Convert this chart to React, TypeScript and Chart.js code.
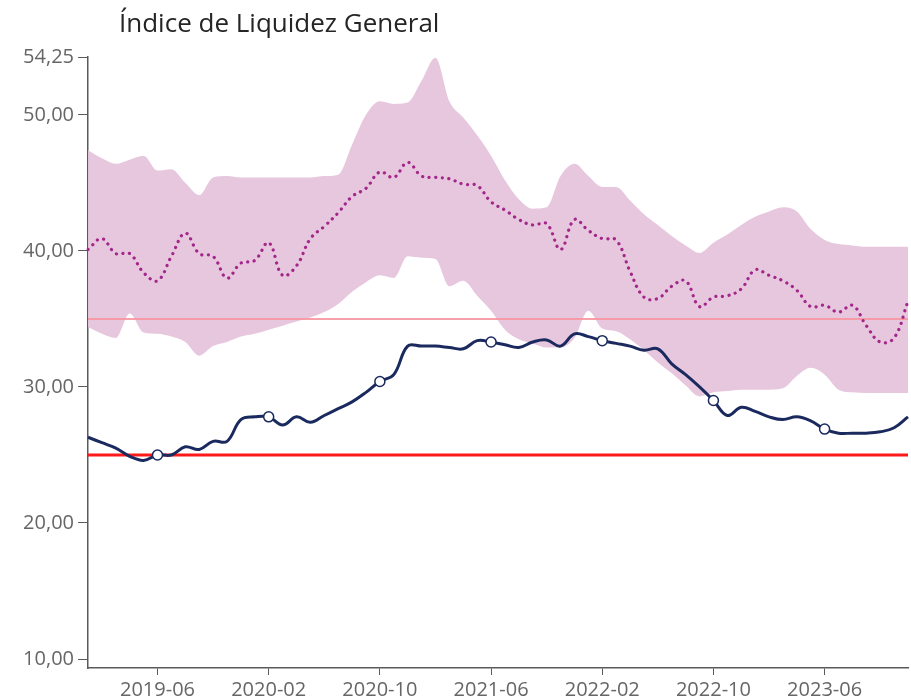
import React, { useEffect, useRef } from "react";
import { Chart, registerables } from "chart.js";

Chart.register(...registerables);

const months = [
  "2019-01","2019-02","2019-03","2019-04","2019-05","2019-06","2019-07","2019-08","2019-09","2019-10","2019-11","2019-12",
  "2020-01","2020-02","2020-03","2020-04","2020-05","2020-06","2020-07","2020-08","2020-09","2020-10","2020-11","2020-12",
  "2021-01","2021-02","2021-03","2021-04","2021-05","2021-06","2021-07","2021-08","2021-09","2021-10","2021-11","2021-12",
  "2022-01","2022-02","2022-03","2022-04","2022-05","2022-06","2022-07","2022-08","2022-09","2022-10","2022-11","2022-12",
  "2023-01","2023-02","2023-03","2023-04","2023-05","2023-06","2023-07","2023-08","2023-09","2023-10","2023-11","2023-12",
];

const tickLabels = ["2019-06","2020-02","2020-10","2021-06","2022-02","2022-10","2023-06"];

const companyValues = [
  26.3, 25.9, 25.5, 24.9, 24.6, 25.0, 25.0, 25.6, 25.4, 26.0, 26.0, 27.6,
  27.8, 27.8, 27.2, 27.8, 27.4, 27.9, 28.4, 28.9, 29.6, 30.4, 30.9, 33.0,
  33.0, 33.0, 32.9, 32.8, 33.4, 33.3, 33.1, 32.9, 33.3, 33.45, 33.0, 33.9,
  33.7, 33.4, 33.2, 33.0, 32.7, 32.8, 31.7, 30.9, 30.0, 29.0, 27.9, 28.5,
  28.2, 27.8, 27.6, 27.8, 27.5, 26.9, 26.6, 26.6, 26.6, 26.7, 27.0, 27.8,
];

const sectorAverage = [
  40.1, 40.9, 39.8, 39.8, 38.4, 37.8, 39.6, 41.3, 39.8, 39.6, 38.0, 39.1,
  39.3, 40.6, 38.2, 38.9, 40.9, 41.8, 42.8, 44.0, 44.6, 45.8, 45.4, 46.5,
  45.5, 45.4, 45.3, 44.9, 44.8, 43.6, 43.0, 42.3, 41.9, 42.0, 40.1, 42.3,
  41.5, 40.9, 40.8, 38.5, 36.6, 36.5, 37.4, 37.8, 35.9, 36.6, 36.7, 37.2,
  38.6, 38.2, 37.8, 37.1, 35.9, 36.0, 35.5, 36.0, 34.5, 33.3, 33.6, 36.3,
];

const sectorUpper = [
  47.4, 46.8, 46.4, 46.7, 47.0, 45.9, 46.0, 45.0, 44.1, 45.4, 45.5, 45.4,
  45.4, 45.4, 45.4, 45.4, 45.4, 45.5, 45.6, 47.8, 50.0, 51.0, 50.8, 50.9,
  52.5, 54.2, 51.0, 49.8, 48.5, 47.0, 45.2, 43.8, 43.1, 43.2, 45.5, 46.4,
  45.5, 44.7, 44.7, 43.7, 42.7, 41.9, 41.1, 40.4, 39.85, 40.6, 41.2, 41.9,
  42.5, 42.9, 43.2, 42.9, 41.6, 40.8, 40.5, 40.4, 40.3, 40.3, 40.3, 40.3,
];

const sectorLower = [
  34.4, 33.9, 33.6, 35.4, 34.0, 33.9, 33.7, 33.3, 32.3, 33.0, 33.3, 33.7,
  33.9, 34.2, 34.5, 34.8, 35.1, 35.5, 36.1, 37.0, 37.7, 38.2, 38.0, 39.6,
  39.5, 39.4, 37.4, 37.8, 36.7, 35.6, 34.2, 33.5, 33.2, 32.9, 32.9, 33.6,
  35.6, 34.3, 34.1, 33.5, 32.7, 31.8, 31.0, 30.1, 29.3, 29.6, 29.7, 29.8,
  29.8, 29.8, 29.9, 30.8, 31.4, 30.9, 29.8, 29.6, 29.55, 29.55, 29.55, 29.55,
];

const yTickValues = [10, 20, 30, 40, 50, 54.25];
const referenceLevel = 35;
const minimumLevel = 25;

export default function App() {
  const canvasRef = useRef<HTMLCanvasElement | null>(null);

  useEffect(() => {
    document.body.style.margin = "0";
    const canvas = canvasRef.current;
    if (!canvas) return;
    const navy = "#1b2a5e";
    const axisColor = "#5a5a5a";
    const labelColor = "#666666";
    const font = { family: "'Open Sans', 'Noto Sans', sans-serif", size: 20 };
    const chart = new Chart(canvas, {
      type: "line",
      data: {
        labels: months,
        datasets: [
          {
            label: "Empresa",
            data: companyValues,
            borderColor: navy,
            borderWidth: 3,
            tension: 0.4,
            pointRadius: (ctx: any) => (tickLabels.includes(months[ctx.dataIndex]) ? 5 : 0),
            pointBackgroundColor: "#ffffff",
            pointBorderColor: navy,
            pointBorderWidth: 1.5,
            fill: false,
            order: 0,
          },
          {
            label: "Mínimo",
            data: months.map(() => minimumLevel),
            borderColor: "#ff1a1a",
            borderWidth: 3,
            pointRadius: 0,
            fill: false,
            order: 1,
          },
          {
            label: "Promedio sector",
            data: sectorAverage,
            borderColor: "#a3268a",
            borderWidth: 3.2,
            borderDash: [0.1, 6.5],
            borderCapStyle: "round",
            tension: 0.4,
            pointRadius: 0,
            fill: false,
            order: 2,
          },
          {
            label: "Referencia",
            data: months.map(() => referenceLevel),
            borderColor: "rgba(246,150,160,0.9)",
            borderWidth: 2,
            pointRadius: 0,
            fill: false,
            order: 3,
          },
          {
            label: "Rango superior",
            data: sectorUpper,
            borderWidth: 0,
            borderColor: "rgba(0,0,0,0)",
            backgroundColor: "rgba(230,196,220,0.95)",
            cubicInterpolationMode: "monotone",
            pointRadius: 0,
            fill: 5,
            order: 4,
          },
          {
            label: "Rango inferior",
            data: sectorLower,
            borderWidth: 0,
            borderColor: "rgba(0,0,0,0)",
            cubicInterpolationMode: "monotone",
            pointRadius: 0,
            fill: false,
            order: 5,
          },
        ],
      },
      options: {
        animation: false,
        responsive: false,
        maintainAspectRatio: false,
        layout: { padding: { top: 57, right: 3, left: 0, bottom: 0 } },
        plugins: {
          legend: { display: false },
          tooltip: { enabled: false },
          title: { display: false },
        },
        scales: {
          x: {
            type: "category",
            offset: false,
            grid: {
              display: true,
              drawOnChartArea: false,
              drawTicks: true,
              tickLength: 7,
              tickColor: axisColor,
              offset: false,
            },
            border: { display: true, color: axisColor, width: 1.5 },
            afterBuildTicks: (scale: any) => {
              scale.ticks = scale.ticks.filter((t: any) => tickLabels.includes(months[t.value]));
            },
            ticks: {
              autoSkip: false,
              maxRotation: 0,
              color: labelColor,
              padding: 3,
              font,
            },
            afterFit: (scale: any) => {
              scale.height = 32;
            },
          },
          y: {
            min: 9.34,
            max: 54.25,
            afterBuildTicks: (scale: any) => {
              scale.ticks = yTickValues.map((v) => ({ value: v }));
            },
            afterFit: (scale: any) => {
              scale.width = 88;
            },
            grid: {
              display: true,
              drawOnChartArea: false,
              drawTicks: true,
              tickLength: 10,
              tickColor: axisColor,
            },
            border: { display: true, color: axisColor, width: 1.5 },
            ticks: {
              color: labelColor,
              padding: 4,
              font,
              callback: (v: any) => Number(v).toFixed(2).replace(".", ","),
            },
          },
        },
      },
    } as any);
    return () => chart.destroy();
  }, []);

  return (
    <div style={{ position: "relative", width: 911, height: 700, background: "#ffffff" }}>
      <div
        style={{
          position: "absolute",
          left: 119,
          top: 2,
          fontFamily: "'Open Sans', 'Noto Sans', sans-serif",
          fontSize: 26,
          color: "#252525",
          whiteSpace: "nowrap",
          lineHeight: "40px",
        }}
      >
        Índice de Liquidez General
      </div>
      <canvas ref={canvasRef} width={911} height={700} style={{ display: "block" }} />
    </div>
  );
}
